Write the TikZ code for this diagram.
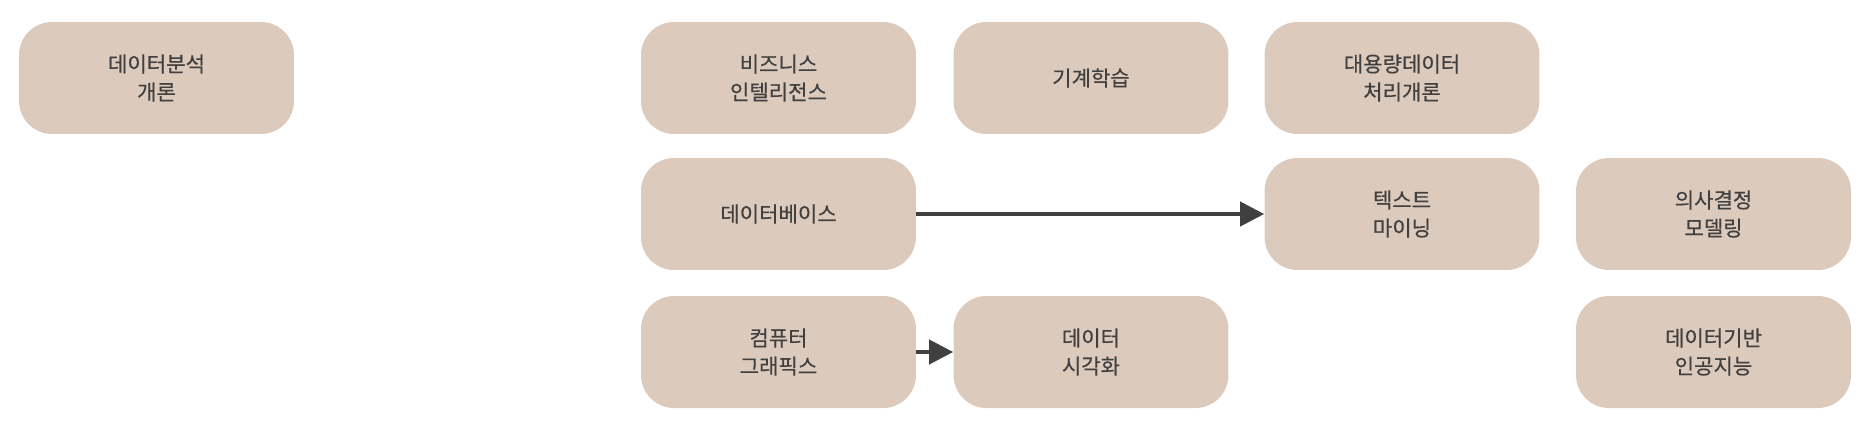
\documentclass[tikz,border=0pt]{standalone}
\usepackage{fontspec}
\setmainfont{Noto Sans CJK KR}[UprightFeatures={FakeBold=0.4}]
\usetikzlibrary{arrows.meta}
\definecolor{boxfill}{HTML}{DCCABC}
\definecolor{inkgray}{HTML}{404040}

\begin{document}
\begin{tikzpicture}[x=0.02cm, y=-0.02cm,
    course/.style={fill=boxfill, rounded corners=0.66cm, minimum width=5.5cm,
        minimum height=2.24cm, inner sep=0pt, align=center, text=inkgray,
        font=\fontsize{12}{16}\selectfont},
    prereq/.style={draw=inkgray, line width=2.3pt,
        -{Triangle[length=0.48cm, width=0.48cm]}}]
    \useasboundingbox (0,0) rectangle (1876,434);

    % first row
    \node [course] (intro) at (156.5, 78) {데이터분석\\개론};
    \node [course] (bi) at (778.5, 78) {비즈니스\\인텔리전스};
    \node [course] (ml) at (1091, 78) {기계학습};
    \node [course] (bigdata) at (1402, 78) {대용량데이터\\처리개론};

    % second row
    \node [course] (db) at (778.5, 214) {데이터베이스};
    \node [course] (textmining) at (1402, 214) {텍스트\\마이닝};
    \node [course] (decision) at (1713.5, 214) {의사결정\\모델링};

    % third row
    \node [course] (graphics) at (778.5, 352) {컴퓨터\\그래픽스};
    \node [course] (vis) at (1091, 352) {데이터\\시각화};
    \node [course] (ai) at (1713.5, 352) {데이터기반\\인공지능};

    \draw [prereq] (db) -- (textmining);
    \draw [prereq] (graphics) -- (vis);
\end{tikzpicture}
\end{document}
